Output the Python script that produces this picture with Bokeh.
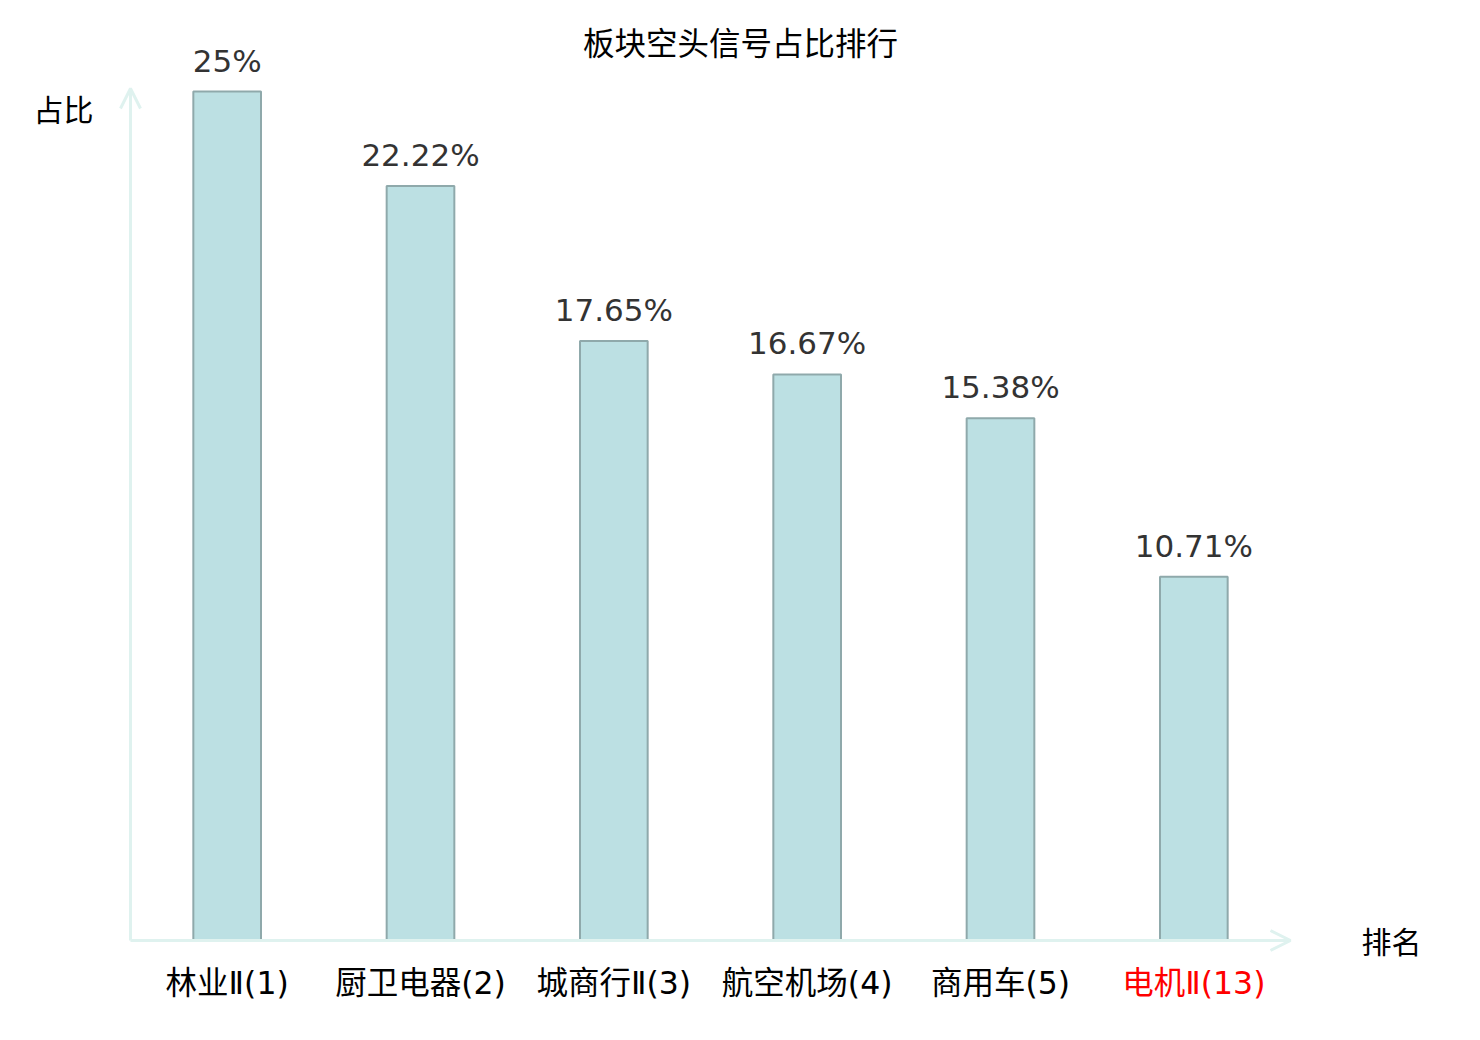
from bokeh.plotting import figure
from bokeh.models import ColumnDataSource, LabelSet, Label, Arrow, OpenHead, Range1d
from bokeh.core.properties import value
from bokeh.embed import file_html
from bokeh.resources import INLINE

# ---- data ----
categories = ["林业Ⅱ(1)", "厨卫电器(2)", "城商行Ⅱ(3)", "航空机场(4)", "商用车(5)", "电机Ⅱ(13)"]
shares = [25, 22.22, 17.65, 16.67, 15.38, 10.71]
label_colors = ["#000000", "#000000", "#000000", "#000000", "#000000", "#ff0000"]
title_text = "板块空头信号占比排行"
y_name = "占比"
x_name = "排名"

value_texts = [f"{v:g}%" for v in shares]
n = len(categories)
xpos = [i + 0.5 for i in range(n)]   # category slot centres

src = ColumnDataSource(dict(x=xpos, cat=categories, share=shares, vtxt=value_texts,
                            zero=[0] * n, lcol=label_colors))

# layout (pixels) : whole canvas is the frame so that nothing gets clipped
W, H = 1480, 1040
ax_left_px, ax_right_px = 130, 1290
base_px, top_px = 940, 91           # y=0 and y=max(shares)
ux = (ax_right_px - ax_left_px) / n
uy = (base_px - top_px) / max(shares)
x_range = Range1d(-ax_left_px / ux, (W - ax_left_px) / ux)
y_range = Range1d(-(H - base_px) / uy, base_px / uy)
y_axis_end = (base_px - 88) / uy

p = figure(width=W, height=H, x_range=x_range, y_range=y_range,
           output_backend="svg", toolbar_location=None,
           min_border=0, min_border_left=0, min_border_right=0,
           min_border_top=0, min_border_bottom=0)
p.xaxis.visible = False
p.yaxis.visible = False
p.xgrid.visible = False
p.ygrid.visible = False
p.outline_line_color = None
p.background_fill_color = "white"
p.border_fill_color = "white"

p.vbar(x="x", top="share", width=0.35, source=src,
       fill_color="#bce0e3", line_color="#8fa9ab", line_width=2)

axis_col = "#dff2ef"
p.add_layout(Arrow(end=OpenHead(size=20, line_color=axis_col, line_width=3),
                   x_start=0, y_start=0, x_end=n, y_end=0,
                   line_color=axis_col, line_width=3))
p.add_layout(Arrow(end=OpenHead(size=20, line_color=axis_col, line_width=3),
                   x_start=0, y_start=0, x_end=0, y_end=y_axis_end,
                   line_color=axis_col, line_width=3))

p.add_layout(LabelSet(x="x", y="share", text="vtxt", source=src, y_offset=20,
                      text_align="center", text_baseline="alphabetic",
                      text_font=value("DejaVu Sans"), text_font_size="31px",
                      text_color="#333333"))

tick_font = "'DejaVu Sans', 'Noto Sans CJK SC'"
p.add_layout(LabelSet(x="x", y="zero", text="cat", source=src, y_offset=-42,
                      text_align="center", text_baseline="middle",
                      text_font=value(tick_font), text_font_size="31.5px",
                      text_color="lcol"))

p.add_layout(Label(x=740, y=H - 40, x_units="screen", y_units="screen", text=title_text,
                   text_align="center", text_baseline="middle",
                   text_font="Noto Sans CJK SC", text_font_size="31.5px", text_color="#000000"))
p.add_layout(Label(x=63, y=H - 107, x_units="screen", y_units="screen", text=y_name,
                   text_align="center", text_baseline="middle",
                   text_font="Noto Sans CJK SC", text_font_size="30px", text_color="#000000"))
p.add_layout(Label(x=1391, y=H - 939, x_units="screen", y_units="screen", text=x_name,
                   text_align="center", text_baseline="middle",
                   text_font="Noto Sans CJK SC", text_font_size="30px", text_color="#000000"))

open("out.html", "w").write(file_html(p, INLINE))
